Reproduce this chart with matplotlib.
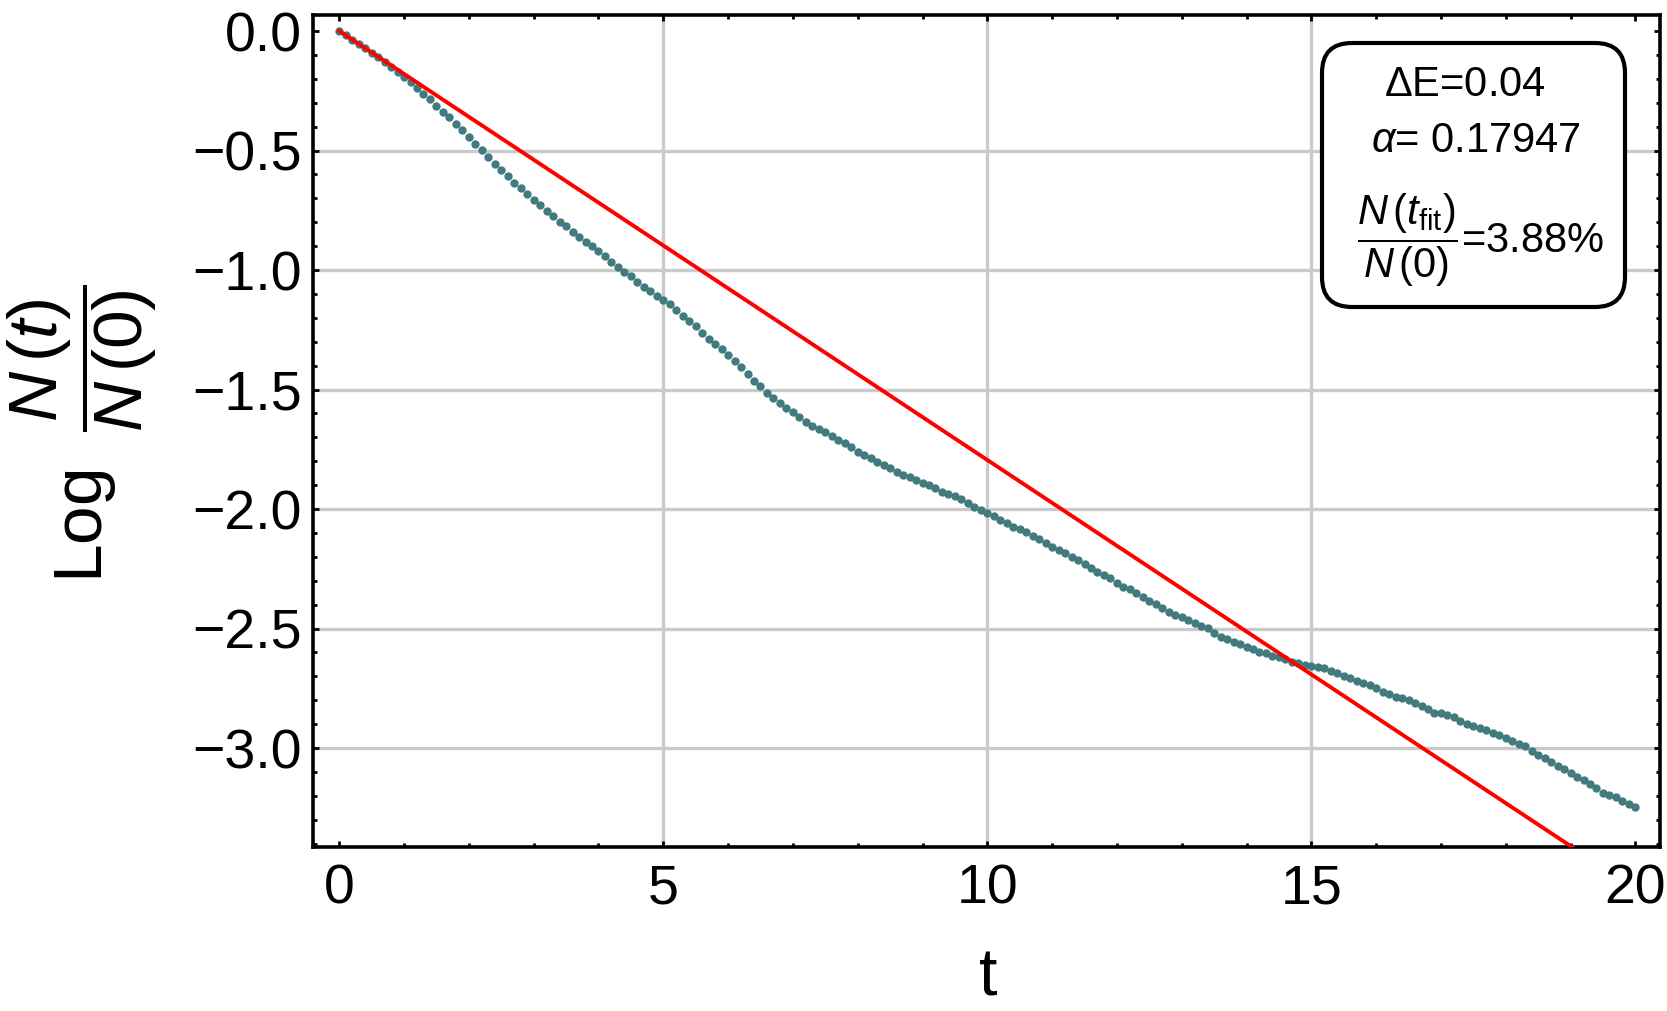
import numpy as np
import matplotlib.pyplot as plt
from matplotlib.patches import FancyBboxPatch
from matplotlib.transforms import IdentityTransform
from matplotlib.ticker import MultipleLocator

plt.rcParams['font.family'] = ['Liberation Sans', 'DejaVu Sans']
plt.rcParams['mathtext.fontset'] = 'custom'
plt.rcParams['mathtext.rm'] = 'Liberation Sans'
plt.rcParams['mathtext.it'] = 'Liberation Sans:italic'
plt.rcParams['mathtext.bf'] = 'Liberation Sans:bold'

# sampling times, dt = 0.1
t = np.linspace(0, 20, 201)

# -Log N(t)/N(0)
neg_log = np.array([
    0.000, 0.018, 0.036, 0.055, 0.073, 0.091, 0.110, 0.129, 0.149, 0.170,
    0.192, 0.215, 0.239, 0.263, 0.286, 0.313, 0.337, 0.361, 0.388, 0.414,
    0.444, 0.472, 0.498, 0.526, 0.555, 0.581, 0.607, 0.634, 0.658, 0.682,
    0.707, 0.729, 0.752, 0.774, 0.797, 0.817, 0.839, 0.860, 0.881, 0.900,
    0.920, 0.943, 0.965, 0.986, 1.008, 1.026, 1.049, 1.069, 1.087, 1.108,
    1.125,
    1.144, 1.167, 1.192, 1.212, 1.234, 1.262, 1.290, 1.310, 1.332, 1.356,
    1.379, 1.404, 1.435, 1.464, 1.485, 1.513, 1.534, 1.555, 1.576, 1.593,
    1.614, 1.635, 1.651, 1.665, 1.676, 1.695, 1.711, 1.725, 1.739, 1.760,
    1.774, 1.788, 1.802, 1.816, 1.830, 1.844, 1.858, 1.865, 1.879, 1.893,
    1.900, 1.914, 1.927, 1.937, 1.946, 1.960, 1.976, 1.990, 2.004, 2.015,
    2.029, 2.046, 2.060, 2.074, 2.084, 2.095, 2.113, 2.127, 2.141, 2.158,
    2.172, 2.183, 2.199, 2.213, 2.230, 2.248, 2.262, 2.276, 2.290, 2.308,
    2.325, 2.336, 2.350, 2.370, 2.383, 2.397, 2.415, 2.429, 2.443, 2.453,
    2.464, 2.478, 2.489, 2.499, 2.517, 2.534, 2.545, 2.555, 2.565, 2.576,
    2.587, 2.597, 2.604, 2.615, 2.621, 2.629, 2.639, 2.646, 2.653, 2.655,
    2.660, 2.667, 2.676, 2.685, 2.699, 2.708, 2.718, 2.727, 2.736, 2.750,
    2.764, 2.774, 2.785, 2.792, 2.799, 2.810, 2.824, 2.838, 2.852, 2.852,
    2.862, 2.872, 2.886, 2.900, 2.908, 2.918, 2.925, 2.936, 2.946, 2.960,
    2.969, 2.981, 2.992, 3.011, 3.029, 3.043, 3.057, 3.075, 3.089, 3.103,
    3.120, 3.134, 3.151, 3.169, 3.187, 3.197, 3.204, 3.221, 3.234, 3.248,
])
log_ratio = -neg_log

alpha = 0.17947
delta_E = 0.04
survival = 3.88  # percent
fit_t = [0, 20]

grid_x = [5, 10, 15]
grid_y = [-0.5, -1.0, -1.5, -2.0, -2.5, -3.0]

W, H = 1667, 1011
fig = plt.figure(figsize=(W / 100, H / 100), dpi=100)
ax = fig.add_axes([313 / W, 1 - 847 / H, (1660 - 313) / W, (847 - 15) / H])

for gx in grid_x:
    ax.axvline(gx, color='#cacaca', lw=2.4, zorder=1)
for gy in grid_y:
    ax.axhline(gy, color='#cacaca', lw=2.4, zorder=1)

ax.plot(t, log_ratio, 'o', ms=6, mew=0, color='#417b7e', zorder=3)
ax.plot(fit_t, [-alpha * x for x in fit_t], color='#ff0000', lw=2.8, zorder=4)

ax.set_xlim(-0.405, 20.38)
ax.set_ylim(-3.414, 0.067)
ax.xaxis.set_major_locator(MultipleLocator(5))
ax.xaxis.set_minor_locator(MultipleLocator(1))
ax.yaxis.set_major_locator(MultipleLocator(0.5))
ax.yaxis.set_minor_locator(MultipleLocator(0.1))
ax.tick_params(which='both', direction='in', top=True, right=True,
               width=2, labelsize=40)
ax.tick_params(which='major', length=4.5)
ax.tick_params(which='minor', length=3)
ax.tick_params(axis='x', pad=12)
ax.tick_params(axis='y', pad=8)
for sp in ax.spines.values():
    sp.set_linewidth(2.6)

fig.text(988 / W, 1 - 995 / H, 't', fontsize=48, ha='center', va='baseline')
fig.text(82 / W, 1 - 434 / H, r'Log $\;\dfrac{N\,(t)}{N\,(0)}$', fontsize=50,
         rotation=90, ha='center', va='center')

# info box (display pixels)
box = FancyBboxPatch((1322, H - 307), 303, 264,
                     boxstyle='round,pad=0,rounding_size=30',
                     transform=IdentityTransform(), fc='white', ec='black',
                     lw=3, zorder=10)
fig.patches.append(box)
fig.text(1465 / W, 1 - 85 / H, r'$\Delta$E=%.2f' % delta_E, fontsize=30,
         ha='center', va='center', zorder=11)
fig.text(1476 / W, 1 - 141 / H, r'$\alpha$= %.5f' % alpha, fontsize=30,
         ha='center', va='center', zorder=11)
fig.text(1480 / W, 1 - 240 / H,
         r'$\dfrac{N\,(t_{\mathrm{fit}})}{N\,(0)}$=%.2f%%' % survival,
         fontsize=30, ha='center', va='center', zorder=11)

fig.savefig('out.png', dpi=100)
